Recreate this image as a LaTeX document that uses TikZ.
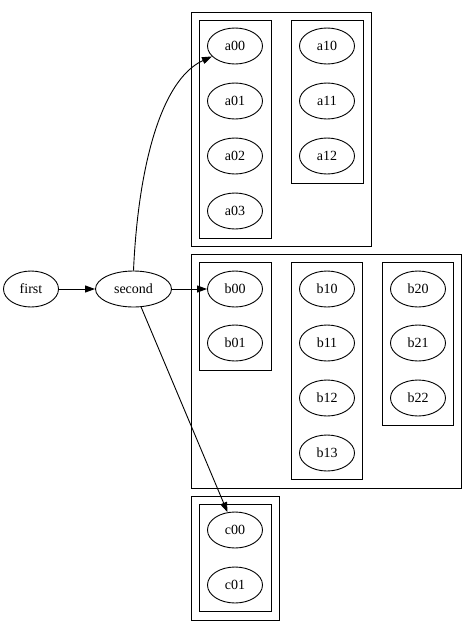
\documentclass[tikz,border=0pt]{standalone}
\usepackage{fontspec}
\setmainfont{Liberation Serif}
\usetikzlibrary{arrows.meta,shapes.geometric}
\begin{document}
\begin{tikzpicture}[x=1pt,y=-1pt,
  nd/.style={draw,ellipse,line width=0.9pt,minimum width=55pt,minimum height=36pt,inner sep=0pt,font=\fontsize{14}{16}\selectfont},
  box/.style={draw,line width=1pt},
  edge/.style={line width=0.9pt,-{Triangle[length=10pt,width=7pt]}}]
\useasboundingbox (0,0) rectangle (474,632);
% boxes
\draw[box] (191,12) rectangle (371,246);
\draw[box] (199,20) rectangle (271,238);
\draw[box] (291,20) rectangle (363,183);
\draw[box] (191,254) rectangle (461,488);
\draw[box] (199,262) rectangle (271,370);
\draw[box] (291,262) rectangle (362,479);
\draw[box] (382,262) rectangle (453,425);
\draw[box] (191,496) rectangle (279,620);
\draw[box] (199,504) rectangle (271,611);
% nodes
\node[nd] (first) at (31,289) {first};
\node[nd,minimum width=76pt] (second) at (133.5,289) {second};
\node[nd] (a00) at (235,46) {a00};
\node[nd] (a01) at (235,101) {a01};
\node[nd] (a02) at (235,156) {a02};
\node[nd] (a03) at (235,211) {a03};
\node[nd] (a10) at (327,46) {a10};
\node[nd] (a11) at (327,101) {a11};
\node[nd] (a12) at (327,156) {a12};
\node[nd] (b00) at (235,289) {b00};
\node[nd] (b01) at (235,343) {b01};
\node[nd] (b10) at (327,289) {b10};
\node[nd] (b11) at (327,343) {b11};
\node[nd] (b12) at (327,398) {b12};
\node[nd] (b13) at (327,453) {b13};
\node[nd] (b20) at (418,289) {b20};
\node[nd] (b21) at (418,343) {b21};
\node[nd] (b22) at (418,398) {b22};
\node[nd] (c00) at (235,530) {c00};
\node[nd] (c01) at (235,585) {c01};
% edges
\draw[edge] (first) -- (second);
\draw[edge] (second) -- (b00);
\draw[edge] (second.north) .. controls (138,170) and (160,80) .. (a00);
\draw[edge] (second) -- (c00);
\end{tikzpicture}
\end{document}
